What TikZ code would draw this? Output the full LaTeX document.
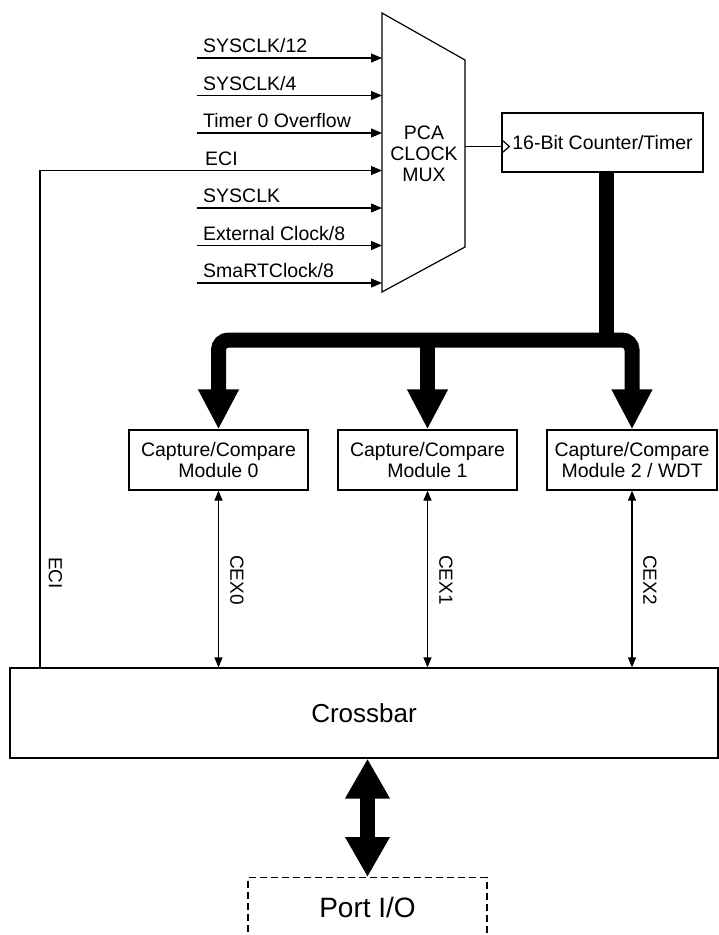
\documentclass[tikz,border=0pt]{standalone}
\usepackage{fontspec}
\setmainfont{Liberation Sans}
\usetikzlibrary{arrows.meta,positioning}

\begin{document}
\begin{tikzpicture}[x=1pt, y=-1pt,
    box/.style={draw, line width=1.2pt, align=center, inner sep=0pt,
                font=\fontsize{19.5}{21.5}\selectfont},
    lbl/.style={anchor=south west, inner sep=0pt, font=\fontsize{19.5}{21}\selectfont},
    vlbl/.style={rotate=-90, anchor=west, inner sep=0pt, font=\fontsize{19}{21}\selectfont},
    inarr/.style={-{Triangle[length=11pt,width=9pt]}, line width=1.2pt},
    sig/.style={{Triangle[length=10pt,width=8pt]}-{Triangle[length=10pt,width=8pt]}, line width=1.2pt},
    bus/.style={line width=15pt},
    busarr/.style={bus, -{Triangle[length=40pt,width=38pt]}},
    fatarr/.style={bus, {Triangle[length=40pt,width=42pt]}-{Triangle[length=40pt,width=42pt]}}
]
\useasboundingbox (0,0) rectangle (719,935);
% Clock mux
\draw[line width=1.2pt] (382,13) coordinate (mux-nw) -- (465,60) coordinate (mux-ne)
  -- (465,247) coordinate (mux-se) -- (382,292) coordinate (mux-sw) -- cycle;
\node[align=center, inner sep=0pt, font=\fontsize{19.5}{21}\selectfont] (muxtxt)
  at (424,154) {PCA\\CLOCK\\MUX};
% Clock inputs
\coordinate (in1) at (197,58);
\coordinate (in2) at (197,95.5);
\coordinate (in3) at (197,133);
\coordinate (in4) at (197,170.5);
\coordinate (in5) at (197,208);
\coordinate (in6) at (197,245.5);
\coordinate (in7) at (197,283);
\coordinate (eci) at (40,170.5);
\draw[inarr] (in1) -- (in1 -| mux-nw);
\draw[inarr] (in2) -- (in2 -| mux-nw);
\draw[inarr] (in3) -- (in3 -| mux-nw);
\draw[inarr] (in5) -- (in5 -| mux-nw);
\draw[inarr] (in6) -- (in6 -| mux-nw);
\draw[inarr] (in7) -- (in7 -| mux-nw);
\node[lbl] (l1) at ([shift={(6,-5)}]in1) {SYSCLK/12};
\node[lbl] (l2) at ([shift={(6,-5)}]in2) {SYSCLK/4};
\node[lbl] (l3) at ([shift={(6,-5)}]in3) {Timer 0 Overflow};
\node[lbl] (l4) at ([shift={(8,-5)}]in4) {ECI};
\node[lbl] (l5) at ([shift={(6,-5)}]in5) {SYSCLK};
\node[lbl] (l6) at ([shift={(6,-5)}]in6) {External Clock/8};
\node[lbl] (l7) at ([shift={(6,-5)}]in7) {SmaRTClock/8};
% Counter
\node[box, minimum width=201pt, minimum height=59pt] (cnt) at (602.5,142.5)
  {16-Bit Counter/Timer};
\coordinate (clk) at ([yshift=-4pt]cnt.west);
\draw[line width=1.2pt] (clk -| mux-ne) -- (clk);
\draw[line width=1.2pt] ([yshift=7pt]clk) -- ++(8,7) -- ++(-8,7);
% Capture/compare modules
\node[box, minimum width=179pt, minimum height=60pt] (ccm0) at (218.5,460)
  {Capture/Compare\\Module 0};
\node[box, minimum width=179pt, minimum height=60pt] (ccm1) at (427.5,460)
  {Capture/Compare\\Module 1};
\node[box, minimum width=170pt, minimum height=60pt] (ccm2) at (632,460)
  {Capture/Compare\\Module 2 / WDT};
% Crossbar and port
\node[box, minimum width=708pt, minimum height=90pt,
      font=\fontsize{26}{30}\selectfont] (xbar) at (364,713) {Crossbar};
\node[draw, dash pattern=on 7pt off 4pt, line width=1.2pt, minimum width=239pt,
      minimum height=80pt, anchor=north] (port) at (367.5,877) {};
\node[inner sep=0pt, font=\fontsize{28}{32}\selectfont] (porttxt) at (367.5,907) {Port I/O};
% Bus
\coordinate (busj) at (606,340);
\draw[bus] (cnt.south -| busj) -- (busj);
\draw[bus, rounded corners=10pt, {Triangle[length=40pt,width=38pt]}-{Triangle[length=40pt,width=38pt]}]
  (ccm0.north) |- (busj) -| (ccm2.north);
\draw[busarr] (ccm1.north |- busj) -- (ccm1.north);
% Signals to crossbar
\draw[inarr] (xbar.north -| eci) |- (eci -| mux-nw);
\draw[sig] (ccm0.south) -- (ccm0.south |- xbar.north);
\draw[sig] (ccm1.south) -- (ccm1.south |- xbar.north);
\draw[sig] (ccm2.south) -- (ccm2.south |- xbar.north);
\node[vlbl] (ecilbl) at (55.5,557) {ECI};
\node[vlbl] (cex0) at (237,555) {CEX0};
\node[vlbl] (cex1) at (446,555) {CEX1};
\node[vlbl] (cex2) at (650,555) {CEX2};
\draw[fatarr] (xbar.south -| port.north) -- (port.north);
\end{tikzpicture}
\end{document}
